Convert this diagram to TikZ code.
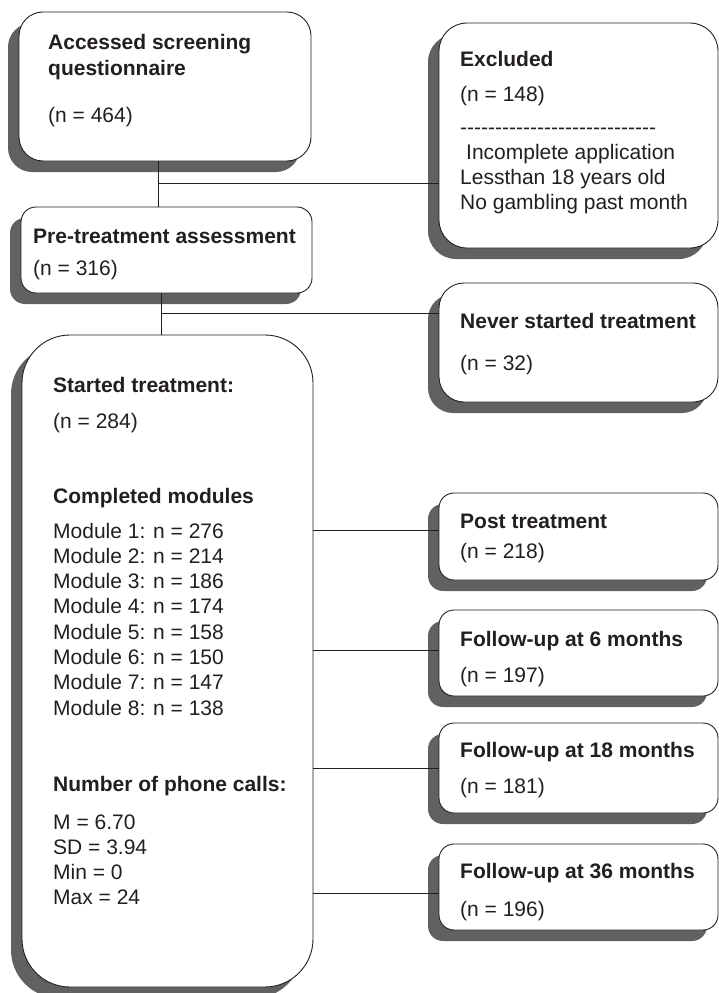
\documentclass[tikz,border=0pt]{standalone}
\usepackage{fontspec}
\setmainfont{Liberation Sans}
\usetikzlibrary{shadows}
\definecolor{shd}{RGB}{97,97,97}
\definecolor{ink}{RGB}{35,31,32}
\begin{document}
\begin{tikzpicture}[x=1pt,y=-1pt,
  font=\fontsize{21}{25}\selectfont,
  flowbox/.style={draw=ink, fill=white, line width=0.9pt, inner sep=0pt,
    drop shadow={shadow xshift=-11pt, shadow yshift=-11pt, fill=shd, opacity=1}},
  txt/.style={anchor=base west, inner sep=0pt, text=ink},
  hd/.style={txt, font=\fontsize{21}{25}\selectfont\bfseries},
  link/.style={draw=ink, line width=0.9pt}]
\useasboundingbox (0,0) rectangle (719,993);

% boxes
\node[flowbox, rounded corners=24pt, minimum width=292pt, minimum height=149pt] (acc) at (165,86.5) {};
\node[flowbox, rounded corners=15pt, minimum width=291pt, minimum height=86pt] (pre) at (166.5,250) {};
\node[flowbox, rounded corners=48pt, minimum width=291pt, minimum height=652pt] (st) at (167.5,661) {};
\node[flowbox, rounded corners=28pt, minimum width=279pt, minimum height=225pt] (ex) at (578.5,135.5) {};
\node[flowbox, rounded corners=25pt, minimum width=279pt, minimum height=119pt] (nev) at (578.5,342.5) {};
\node[flowbox, rounded corners=15pt, minimum width=279pt, minimum height=87pt] (post) at (578.5,536.5) {};
\node[flowbox, rounded corners=15pt, minimum width=279pt, minimum height=86pt] (fu6) at (578.5,653) {};
\node[flowbox, rounded corners=15pt, minimum width=279pt, minimum height=90pt] (fu18) at (578.5,768) {};
\node[flowbox, rounded corners=15pt, minimum width=279pt, minimum height=86pt] (fu36) at (578.5,887) {};

% texts
\node[hd] (acc1) at (48,49) {Accessed screening};
\node[hd] (acc2) at (48,75) {questionnaire};
\node[txt] (acc3) at (48,122) {(n = 464)};

\node[hd] (pre1) at (33,243) {Pre-treatment assessment};
\node[txt] (pre2) at (33,275) {(n = 316)};

\node[hd] (st1) at (53,392) {Started treatment:};
\node[txt] (st2) at (53,428) {(n = 284)};
\node[hd] (st3) at (53,503) {Completed modules};
\foreach \i/\v in {1/276,2/214,3/186,4/174,5/158,6/150,7/147,8/138}{
  \node[txt] (mod\i) at (53,{538+25.3*(\i-1)}) {Module \i: n = \v};
}
\node[hd] (st4) at (53,791) {Number of phone calls:};
\node[txt] (st5) at (53,829) {M = 6.70};
\node[txt] (st6) at (53,854) {SD = 3.94};
\node[txt] (st7) at (53,879) {Min = 0};
\node[txt] (st8) at (53,904) {Max = 24};

\node[hd] (ex1) at (460,66.5) {Excluded};
\node[txt] (ex2) at (460,101.5) {(n = 148)};
\node[txt] (ex3) at (460,134.5) {-{}-{}-{}-{}-{}-{}-{}-{}-{}-{}-{}-{}-{}-{}-{}-{}-{}-{}-{}-{}-{}-{}-{}-{}-{}-{}-{}-{}};
\node[txt] (ex4) at (466,159) {Incomplete application};
\node[txt] (ex5) at (460,184) {Lessthan 18 years old};
\node[txt] (ex6) at (460,209) {No gambling past month};

\node[hd] (nev1) at (460,328) {Never started treatment};
\node[txt] (nev2) at (460,370) {(n = 32)};

\node[hd] (post1) at (460,528) {Post treatment};
\node[txt] (post2) at (460,558) {(n = 218)};

\node[hd] (fu6a) at (460,646) {Follow-up at 6 months};
\node[txt] (fu6b) at (460,682) {(n = 197)};

\node[hd] (fu18a) at (460,757) {Follow-up at 18 months};
\node[txt] (fu18b) at (460,793) {(n = 181)};

\node[hd] (fu36a) at (460,878) {Follow-up at 36 months};
\node[txt] (fu36b) at (460,916) {(n = 196)};

% connectors
\coordinate (j1) at (158,183);
\coordinate (j2) at (161,313);
\draw[link] (acc.south -| j1) -- (pre.north -| j1);
\draw[link] (j1) -- (ex.west |- j1);
\draw[link] (pre.south -| j2) -- (st.north -| j2);
\draw[link] (j2) -- (nev.west |- j2);
\coordinate (c1) at (313,530);
\coordinate (c2) at (313,650);
\coordinate (c3) at (313,768);
\coordinate (c4) at (313,893);
\draw[link] (st.east |- c1) -- (post.west |- c1);
\draw[link] (st.east |- c2) -- (fu6.west |- c2);
\draw[link] (st.east |- c3) -- (fu18.west |- c3);
\draw[link] (st.east |- c4) -- (fu36.west |- c4);
\end{tikzpicture}
\end{document}
